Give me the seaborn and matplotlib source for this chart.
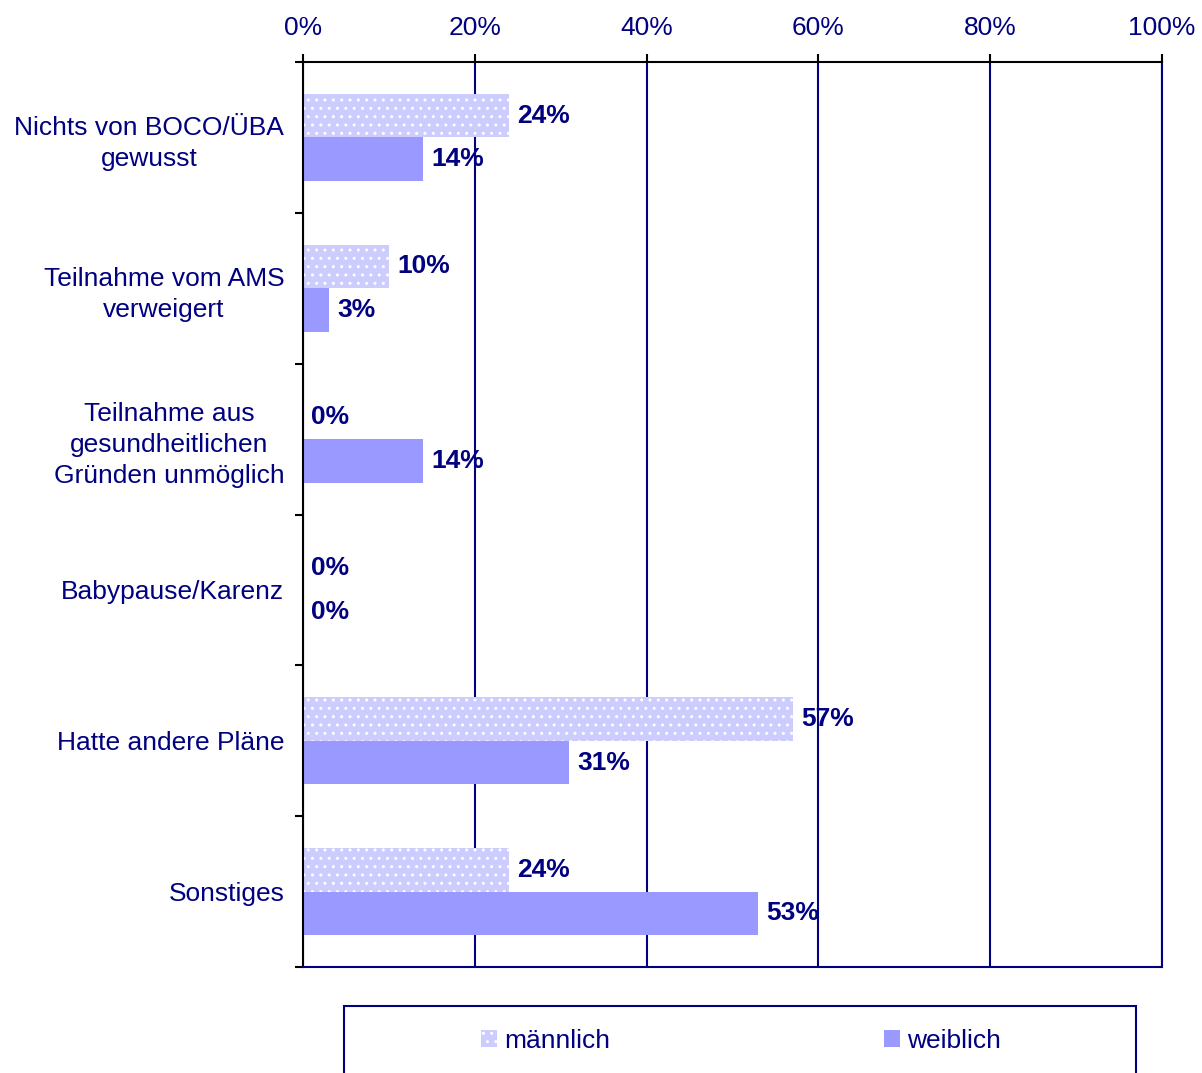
import numpy as np
import pandas as pd
import matplotlib
matplotlib.use("Agg")
import matplotlib.pyplot as plt
from matplotlib.patches import Rectangle
from matplotlib.ticker import FuncFormatter
import seaborn as sns

categories = [
    "Nichts von BOCO/ÜBA\ngewusst",
    "Teilnahme vom AMS\nverweigert",
    "Teilnahme aus\ngesundheitlichen\nGründen unmöglich",
    "Babypause/Karenz",
    "Hatte andere Pläne",
    "Sonstiges",
]
series_names = ["männlich", "weiblich"]
maennlich = [24, 10, 0, 0, 57, 24]
weiblich = [14, 3, 14, 0, 31, 53]
x_ticks = [0, 20, 40, 60, 80, 100]

NAVY = "#000080"
C_M = "#CCCCFF"
C_W = "#9999FF"
FS = 19

sns.set_theme(style="white")
plt.rcParams["font.family"] = ["Liberation Sans", "DejaVu Sans"]
plt.rcParams["hatch.linewidth"] = 1.0

df = pd.DataFrame({
    "Kategorie": categories * 2,
    "Wert": maennlich + weiblich,
    "Geschlecht": [series_names[0]] * len(categories) + [series_names[1]] * len(categories),
})

W, H = 1202, 1073
fig = plt.figure(figsize=(W / 100, H / 100), dpi=100)
ax = fig.add_axes([303 / W, 1 - 967 / H, (1162 - 303) / W, (967 - 62) / H])

sns.barplot(data=df, y="Kategorie", x="Wert", hue="Geschlecht", orient="h",
            palette=[C_M, C_W], width=0.58, saturation=1, ax=ax, legend=False,
            order=categories, hue_order=series_names)

for p in ax.containers[0]:
    p.set_hatch("..")
    p.set_edgecolor("white")
    p.set_linewidth(0)
for p in ax.containers[1]:
    p.set_edgecolor(C_W)
    p.set_linewidth(0)

for cont in ax.containers:
    ax.bar_label(cont, fmt="{:.0f}%", padding=6, color=NAVY, fontsize=FS,
                 fontweight="bold")

ax.set_xlim(0, 100)
ax.set_xticks(x_ticks)
ax.xaxis.set_major_formatter(FuncFormatter(lambda v, pos: f"{v:.0f}%"))
ax.xaxis.tick_top()
ax.tick_params(axis="x", which="major", length=6, width=1.5, color="black",
               labelcolor=NAVY, labelsize=FS, pad=10, top=True, bottom=False)

ax.set_yticks(np.arange(-0.5, len(categories), 1), minor=True)
ax.tick_params(axis="y", which="major", length=0, pad=13.5, labelcolor=NAVY,
               labelsize=FS)
ax.tick_params(axis="y", which="minor", length=6, width=1.5, color="black", left=True)
for t in ax.get_yticklabels():
    t.set_multialignment("center")
    t.set_linespacing(1.37)

ax.set_xlabel("")
ax.set_ylabel("")
ax.grid(axis="x", color=NAVY, linewidth=1.5)
ax.grid(axis="y", visible=False)
ax.set_axisbelow(True)

for side in ["top", "left"]:
    ax.spines[side].set_color("black")
    ax.spines[side].set_linewidth(1.5)
for side in ["bottom", "right"]:
    ax.spines[side].set_color(NAVY)
    ax.spines[side].set_linewidth(1.5)

handles = [ax.containers[0][0], ax.containers[1][0]]
leg = fig.legend(handles, series_names, loc="center",
                 bbox_to_anchor=(741 / W, 1 - 1041 / H), ncol=2, frameon=False,
                 fontsize=FS, handlelength=0.6, handleheight=0.6,
                 handletextpad=0.27, columnspacing=10.4, labelcolor=NAVY)
fig.add_artist(Rectangle((344 / W, -0.05), (1136 - 344) / W, (1 - 1006 / H) + 0.05,
                         transform=fig.transFigure, fill=False,
                         edgecolor=NAVY, linewidth=1.5, clip_on=False))

fig.savefig("out.png", dpi=100)
